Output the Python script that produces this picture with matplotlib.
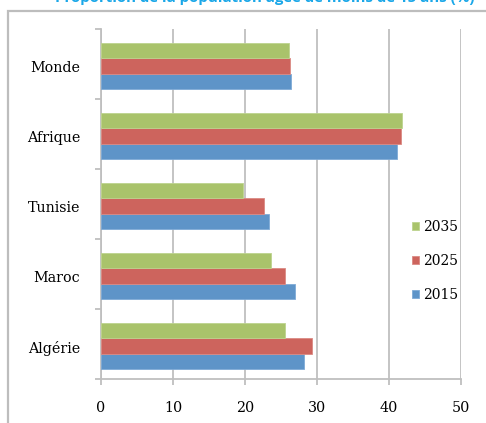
import matplotlib
matplotlib.use('Agg')
import matplotlib.pyplot as plt
from matplotlib.patches import Rectangle
import numpy as np

pays = ['Algérie', 'Maroc', 'Tunisie', 'Afrique', 'Monde']
annees = ['2015', '2025', '2035']
v2015 = [28.2, 27.0, 23.4, 41.1, 26.4]
v2025 = [29.3, 25.5, 22.7, 41.6, 26.25]
v2035 = [25.5, 23.6, 19.7, 41.8, 26.1]
couleurs = ['#5E94C8', '#CD645D', '#A9C36B']
bords = ['#7FAAD6', '#DB8A84', '#BDD38E']

plt.rcParams['font.family'] = ['DejaVu Serif']

fig = plt.figure(figsize=(4.86, 4.23), dpi=100)

# cadre gris autour du graphique
fig.patches.append(Rectangle((8/486, -0.1), 1.0, 1 - 11/423 + 0.1,
                             transform=fig.transFigure, fill=False,
                             edgecolor='#BDBDBD', linewidth=1.6))

# titre, dont seul le bas dépasse en haut de l'image
fig.text(0.545, 1 + 2/423, 'Proportion de la population âgée de moins de 15 ans (%)',
         ha='center', va='center', color='#1AA7E8', fontsize=10.8,
         fontweight='bold', family='Open Sans')

ax = fig.add_axes([101/486, 1 - 379/423, 360/486, 350/423])

y = np.arange(len(pays))
h = 0.22
for i, (vals, lab) in enumerate(zip([v2015, v2025, v2035], annees)):
    ax.barh(y + (i - 1) * h - 0.03, vals, height=h, color=couleurs[i],
            edgecolor=bords[i], linewidth=0.6, label=lab, zorder=3)

ax.set_xlim(0, 50)
ax.set_ylim(-0.5, len(pays) - 0.5)
ax.set_xticks(range(0, 51, 10))
ax.grid(axis='x', color='#BFBFBF', linewidth=1.3, zorder=0)

ax.set_yticks(y - 0.04)
ax.set_yticklabels(pays, fontsize=10.3)
ax.set_yticks(np.arange(-0.5, len(pays)), minor=True)
ax.tick_params(axis='y', which='major', length=0, pad=15)
ax.tick_params(axis='y', which='minor', length=4, color='#BFBFBF', width=1.3)
ax.tick_params(axis='x', length=4, color='#BFBFBF', width=1.3, pad=12, labelsize=10.3)

for s in ['top', 'right']:
    ax.spines[s].set_visible(False)
for s in ['left', 'bottom']:
    ax.spines[s].set_color('#BFBFBF')
    ax.spines[s].set_linewidth(1.3)

handles, labels = ax.get_legend_handles_labels()
ax.legend(handles[::-1], labels[::-1], loc='center left',
          bbox_to_anchor=(305/360, 1 - (261 - 29)/350), frameon=False,
          fontsize=10, handlelength=0.55, handleheight=0.55,
          handletextpad=0.25, labelspacing=1.45, borderaxespad=0)

fig.savefig('out.png', dpi=100)
